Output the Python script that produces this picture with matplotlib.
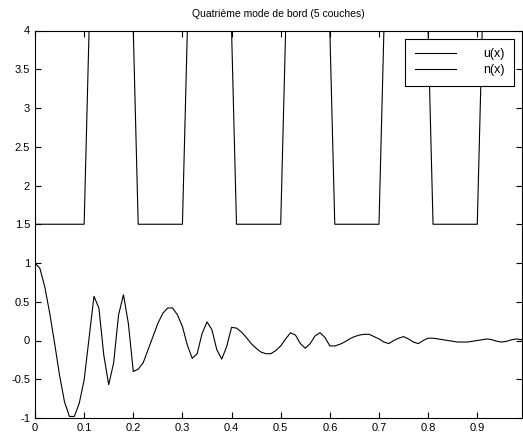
import numpy as np
import matplotlib
matplotlib.use("Agg")
from matplotlib import pyplot as plt

# abscisses 0, 0.01, ..., 0.99
x = np.arange(100) / 100.0

# mode u(x)
u = [1.00, 0.93, 0.69, 0.35, -0.04, -0.45, -0.79, -0.98, -0.98, -0.81,
     -0.51, 0.03, 0.57, 0.42, -0.19, -0.57, -0.29, 0.33, 0.59, 0.22,
     -0.40, -0.37, -0.29, -0.12, 0.05, 0.22, 0.35, 0.42, 0.42, 0.33,
     0.18, -0.06, -0.23, -0.17, 0.09, 0.24, 0.14, -0.12, -0.24, -0.08,
     0.17, 0.16, 0.11, 0.04, -0.04, -0.10, -0.15, -0.17, -0.17, -0.13,
     -0.07, 0.02, 0.10, 0.07, -0.04, -0.10, -0.04, 0.06, 0.10, 0.04,
     -0.07, -0.07, -0.05, -0.02, 0.02, 0.05, 0.07, 0.08, 0.08, 0.05,
     0.02, -0.02, -0.04, 0.00, 0.03, 0.05, 0.02, -0.02, -0.04, 0.00,
     0.03, 0.03, 0.02, 0.01, 0.00, -0.01, -0.02, -0.02, -0.02, -0.01,
     0.00, 0.01, 0.02, 0.01, -0.01, -0.02, -0.01, 0.01, 0.02, 0.01]

# indice n(x) : 5 couches alternees
n_low, n_high = 1.5, 4.0
n = ([n_low] * 11 + [n_high] * 10 + [n_low] * 10 + [n_high] * 10 + [n_low] * 10
     + [n_high] * 10 + [n_low] * 10 + [n_high] * 10 + [n_low] * 10 + [n_high] * 9)

plt.rcParams['font.family'] = ['Liberation Sans', 'DejaVu Sans']
plt.rcParams['axes.unicode_minus'] = False

fig = plt.figure(figsize=(5.23, 4.32), dpi=100)
ax = fig.add_axes([35 / 523, 14 / 432, 486.5 / 523, 387.5 / 432])

ax.plot(x, u, color='k', lw=0.8, label='u(x)')
ax.plot(x, n, color='k', lw=0.8, label='n(x)')

ax.set_xlim(0, 0.99)
ax.set_ylim(-1, 4)
ax.set_xticks(np.arange(0, 1.0, 0.1))
ax.set_xticklabels(['0', '0.1', '0.2', '0.3', '0.4', '0.5', '0.6', '0.7', '0.8', '0.9'])
ax.set_yticks(np.arange(-1, 4.01, 0.5))
ax.set_yticklabels(['-1', '-0.5', '0', '0.5', '1', '1.5', '2', '2.5', '3', '3.5', '4'])
ax.tick_params(direction='in', top=True, right=True, labelsize=8, length=4, width=0.8)
for s in ax.spines.values():
    s.set_linewidth(0.8)

ax.set_title('Quatrième mode de bord (5 couches)', fontsize=7.5, pad=10)

leg = ax.legend(loc='upper right', bbox_to_anchor=(0.985, 0.978), fontsize=9,
                fancybox=False, edgecolor='k', framealpha=1, borderaxespad=0,
                handlelength=3.3, handletextpad=2.2, labelspacing=0.3,
                borderpad=0.75)
leg.get_frame().set_linewidth(0.8)

fig.savefig('out.png', dpi=100)
